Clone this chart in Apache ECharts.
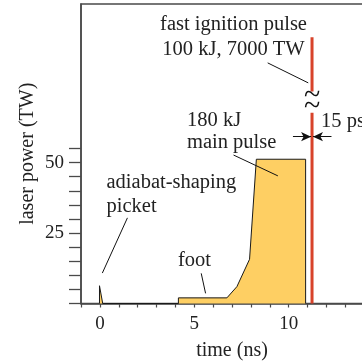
<!DOCTYPE html>
<html>
<head>
<meta charset="utf-8">
<script src="https://cdn.jsdelivr.net/npm/echarts@6/dist/echarts.min.js"></script>
<style>
  html, body { margin: 0; padding: 0; background: #fff; }
  #chart { width: 362px; height: 361px; }
</style>
</head>
<body>
<div id="chart"></div>
<script>
// laser pulse shape (time in ns, power in TW)
const pulseTime = [-0.02, -0.02, 0.07, 0.15, 4.16, 4.16, 6.73, 7.26, 7.93, 8.29, 10.9, 10.9]
const pulsePower = [0, 6.3, 6.3, 0, 0, 2.0, 2.0, 6.0, 15.7, 51.2, 51.2, 0]

// fast ignition spike, drawn with a break in the power axis
const igniteTime = 11.24
const igniteLower = [0, 67.7]
const igniteUpper = [75.2, 94.5]
const breakMarks = [73.6, 69.6]

// 15 ps width arrows
const arrowPower = 59.2
const arrowLeft = [10.23, 11.19]
const arrowRight = [12.27, 11.29]

// leader lines [t1, p1, t2, p2]
const leaders = [
    [8.89, 85.4, 11.04, 78.3],
    [7.08, 52.7, 9.43, 45.3],
    [1.46, 30.4, 0.13, 10.8],
    [5.37, 10.7, 5.60, 3.6]
]

const xTicksLabelled = [0, 5, 10]
const yTicksLabelled = [25, 50]

const font = 'Liberation Serif'
const ink = '#222'
const axisColor = '#4a4a4a'

const chart = echarts.init(document.getElementById('chart'))

const pulseData = pulseTime.map((t, i) => [t, pulsePower[i]])

chart.setOption({
    animation: false,
    grid: [
        { left: 81, top: 4, right: -21, height: 299.5, show: true, borderColor: axisColor, borderWidth: 1.5, outerBoundsMode: 'none', containLabel: false },
        { left: 81, bottom: 57.5, right: -21, height: 155, outerBoundsMode: 'none', containLabel: false }
    ],
    xAxis: [{
        type: 'value',
        gridIndex: 0,
        min: -1,
        max: 15,
        interval: 1,
        splitLine: { show: false },
        axisLine: { onZero: false, lineStyle: { color: axisColor, width: 1.5 } },
        axisTick: { length: 4, lineStyle: { color: axisColor, width: 1.2 } },
        axisLabel: {
            fontFamily: font, fontSize: 19, color: ink, margin: 11,
            formatter: v => xTicksLabelled.includes(v) ? String(v) : ''
        },
        name: 'time (ns)',
        nameLocation: 'middle',
        nameGap: 37,
        nameTextStyle: { fontFamily: font, fontSize: 20, color: ink }
    }, {
        type: 'value',
        gridIndex: 1,
        min: -1,
        max: 15,
        show: false
    }],
    yAxis: [{
        type: 'value',
        gridIndex: 0,
        min: 0,
        max: 106.3,
        splitLine: { show: false },
        axisLine: { show: true, onZero: false, lineStyle: { color: axisColor, width: 1.5 } },
        axisTick: { show: false },
        axisLabel: { show: false },
        name: 'laser power (TW)',
        nameLocation: 'middle',
        nameGap: 43,
        nameTextStyle: { fontFamily: font, fontSize: 20, color: ink }
    }, {
        type: 'value',
        gridIndex: 1,
        min: 0,
        max: 55,
        interval: 5,
        splitLine: { show: false },
        axisLine: { show: false, onZero: false },
        axisTick: { show: true, length: 12, lineStyle: { color: axisColor, width: 1.3 } },
        axisLabel: {
            fontFamily: font, fontSize: 19, color: ink, margin: 17,
            formatter: v => yTicksLabelled.includes(v) ? String(v) : ''
        }
    }],
    series: [{
        type: 'line',
        xAxisIndex: 0,
        yAxisIndex: 0,
        data: pulseData,
        symbol: 'none',
        lineStyle: { color: '#1a1a1a', width: 1 },
        areaStyle: { color: '#fecf63', opacity: 1 },
        z: 3,
        markLine: {
            silent: true,
            symbol: ['none', 'none'],
            label: { show: false },
            lineStyle: { color: '#111', width: 1, type: 'solid' },
            data: leaders.map(l => [{ coord: [l[0], l[1]] }, { coord: [l[2], l[3]] }])
        }
    }, {
        type: 'line',
        xAxisIndex: 0,
        yAxisIndex: 0,
        data: igniteLower.map(p => [igniteTime, p]),
        symbol: 'none',
        lineStyle: { color: '#d8432a', width: 3 },
        z: 4,
        markLine: {
            silent: true,
            symbol: ['none', 'arrow'],
            symbolSize: [7, 10],
            label: { show: false },
            lineStyle: { color: '#111', width: 1, type: 'solid' },
            data: [
                [{ coord: [arrowLeft[0], arrowPower] }, { coord: [arrowLeft[1], arrowPower] }],
                [{ coord: [arrowRight[0], arrowPower] }, { coord: [arrowRight[1], arrowPower] }]
            ]
        }
    }, {
        type: 'line',
        xAxisIndex: 0,
        yAxisIndex: 0,
        data: igniteUpper.map(p => [igniteTime, p]),
        symbol: 'none',
        lineStyle: { color: '#d8432a', width: 3 },
        z: 4,
        markPoint: {
            silent: true,
            symbol: 'circle',
            symbolSize: 1,
            itemStyle: { color: 'rgba(0,0,0,0)' },
            label: {
                show: true, position: 'inside', formatter: '~',
                fontFamily: font, fontSize: 30, color: '#111'
            },
            data: breakMarks.map(p => ({ coord: [igniteTime, p] }))
        }
    }],
    graphic: [
        { type: 'text', x: 233.5, y: 25, style: { text: 'fast ignition pulse', font: '20.5px ' + font, fill: ink, align: 'center', verticalAlign: 'middle' } },
        { type: 'text', x: 233.5, y: 50, style: { text: '100 kJ, 7000 TW', font: '20.5px ' + font, fill: ink, align: 'center', verticalAlign: 'middle' } },
        { type: 'text', x: 187, y: 121, style: { text: '180 kJ', font: '20.5px ' + font, fill: ink, align: 'left', verticalAlign: 'middle' } },
        { type: 'text', x: 187, y: 143, style: { text: 'main pulse', font: '20.5px ' + font, fill: ink, align: 'left', verticalAlign: 'middle' } },
        { type: 'text', x: 106.5, y: 183, style: { text: 'adiabat-shaping', font: '20.5px ' + font, fill: ink, align: 'left', verticalAlign: 'middle' } },
        { type: 'text', x: 106.5, y: 207, style: { text: 'picket', font: '20.5px ' + font, fill: ink, align: 'left', verticalAlign: 'middle' } },
        { type: 'text', x: 178, y: 261, style: { text: 'foot', font: '20.5px ' + font, fill: ink, align: 'left', verticalAlign: 'middle' } },
        { type: 'text', x: 321, y: 122, style: { text: '15 ps', font: '20.5px ' + font, fill: ink, align: 'left', verticalAlign: 'middle' } }
    ]
})
</script>
</body>
</html>
